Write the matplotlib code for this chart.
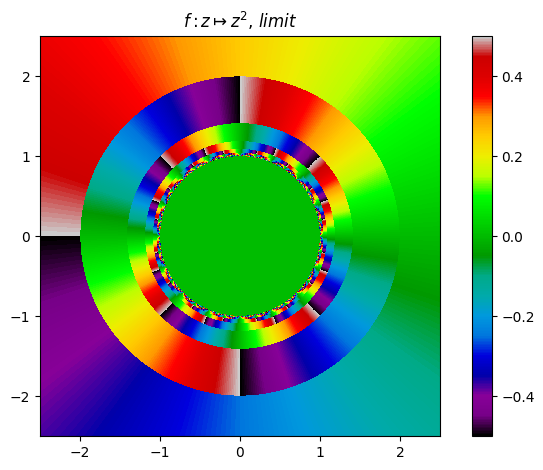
#!/usr/bin/env python3
import numpy as np
import matplotlib.pyplot as plt

# Axis range and grid size as seen in the picture
x_range = [-2.5, 2.5]
y_range = [-2.5, 2.5]
grid_size = 400
escape_radius = 2.0
max_iter = 40
ticks_x = [-2, -1, 0, 1, 2]
ticks_y = [-2, -1, 0, 1, 2]
ticks_cbar = [-0.4, -0.2, 0.0, 0.2, 0.4]

xs = np.linspace(x_range[0], x_range[1], grid_size)
ys = np.linspace(y_range[0], y_range[1], grid_size)
re, im = np.meshgrid(xs, ys)
z = re + 1j * im

# Iterate f until the point leaves the disc, then take the angle
for i in range(max_iter):
    inside = np.abs(z) < escape_radius
    z[inside] = z[inside] ** 2
angle = np.angle(z) / (2 * np.pi)
angle[np.abs(z) < 1] = 0

fig = plt.figure(figsize=(5.43, 4.70), dpi=100)
ax = fig.add_axes([40 / 543, 1 - 436 / 470, 400 / 543, 400 / 470])
im_art = ax.imshow(angle, cmap='nipy_spectral', vmin=-0.5, vmax=0.5, origin='lower',
                   extent=[x_range[0], x_range[1], y_range[0], y_range[1]],
                   interpolation='nearest', aspect='equal')
ax.set_xticks(ticks_x)
ax.set_yticks(ticks_y)
ax.set_title(r'$f: z \mapsto z^2$, $limit$', fontsize=12)

cax = fig.add_axes([471.5 / 543, 1 - 436 / 470, 20 / 543, 400 / 470])
cbar = fig.colorbar(im_art, cax=cax)
cbar.set_ticks(ticks_cbar)

plt.savefig('out.png', dpi=100)
